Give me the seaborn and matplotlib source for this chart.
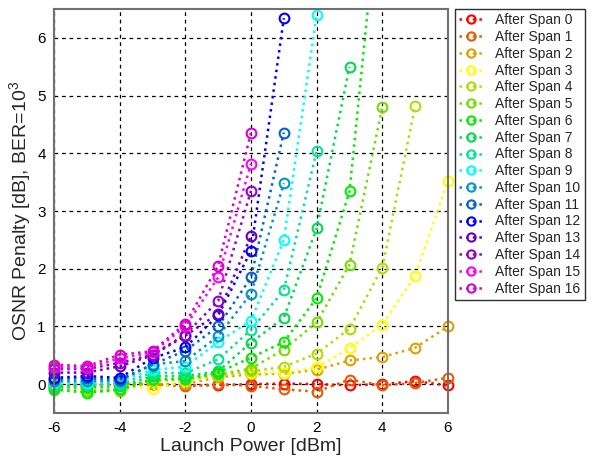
import numpy as np
import pandas as pd
import seaborn as sns
import matplotlib
matplotlib.use("Agg")
import matplotlib.pyplot as plt
from matplotlib.transforms import Bbox, TransformedBbox

# Launch power sweep (dBm)
power = [-6, -5, -4, -3, -2, -1, 0, 1, 2, 3, 4, 5, 6]

# OSNR penalty (dB) per span; each span is measured until the penalty blows up
span_0 = [0.0, 0.0, 0.0, 0.0, -0.02, -0.02, 0.0, 0.01, 0.0, -0.02, 0.0, 0.05, -0.02]
span_1 = [0.0, -0.02, 0.02, 0.0, -0.04, 0.0, -0.03, -0.09, -0.13, 0.08, -0.02, 0.02, 0.11]
span_2 = [0.0, 0.0, 0.0, 0.0, 0.0, 0.12, 0.17, 0.18, 0.25, 0.41, 0.47, 0.63, 1.0]
span_3 = [0.02, 0.0, 0.0, -0.09, 0.05, 0.15, 0.2, 0.2, 0.29, 0.62, 1.03, 1.88, 3.52]
span_4 = [-0.05, -0.09, -0.09, 0.05, 0.08, 0.15, 0.22, 0.30, 0.53, 0.96, 2.02, 4.82]
span_5 = [-0.1, -0.12, -0.12, 0.07, 0.1, 0.17, 0.27, 0.60, 1.07, 2.07, 4.80]
span_6 = [-0.09, -0.15, -0.09, 0.09, 0.09, 0.2, 0.46, 0.73, 1.49, 3.34, 9.0]
span_7 = [-0.05, -0.05, -0.04, 0.14, 0.14, 0.22, 0.72, 1.15, 2.70, 5.50]
span_8 = [-0.03, 0.0, 0.0, 0.2, 0.19, 0.43, 0.94, 1.63, 4.04]
span_9 = [0.04, 0.02, 0.05, 0.25, 0.30, 0.73, 1.10, 2.50, 6.40]
span_10 = [0.05, 0.05, 0.06, 0.34, 0.40, 0.83, 1.57, 3.48]
span_11 = [0.09, 0.1, 0.08, 0.34, 0.58, 1.0, 1.85, 4.36]
span_12 = [0.11, 0.14, 0.11, 0.45, 0.64, 1.19, 2.31, 6.34]
span_13 = [0.2, 0.2, 0.31, 0.50, 0.84, 1.22, 2.57]
span_14 = [0.26, 0.26, 0.37, 0.51, 0.86, 1.44, 3.35]
span_15 = [0.3, 0.28, 0.45, 0.55, 1.0, 1.85, 3.82]
span_16 = [0.34, 0.31, 0.51, 0.57, 1.05, 2.05, 4.36]

spans = [span_0, span_1, span_2, span_3, span_4, span_5, span_6, span_7, span_8,
         span_9, span_10, span_11, span_12, span_13, span_14, span_15, span_16]
labels = [f"After Span {i}" for i in range(len(spans))]

colors = ["#ff0000", "#e85a00", "#e0a000", "#ffff00", "#b4dc00", "#78dc00",
          "#00ee00", "#00dc50", "#00e496", "#00ffff", "#0096c8", "#0064c8",
          "#0000ff", "#6400c8", "#9600c8", "#ff00ff", "#dc00c8"]

rows = []
for lab, vals in zip(labels, spans):
    for p, v in zip(power, vals):
        rows.append({"power": p, "penalty": v, "span": lab})
df = pd.DataFrame(rows)

sns.set_theme(style="white")
plt.rcParams["font.family"] = ["Liberation Sans", "DejaVu Sans"]
plt.rcParams["mathtext.fontset"] = "custom"
plt.rcParams["mathtext.rm"] = "Liberation Sans"
plt.rcParams["mathtext.it"] = "Liberation Sans:italic"
plt.rcParams["axes.unicode_minus"] = False

fig = plt.figure(figsize=(5.97, 4.62), dpi=100)
ax = fig.add_axes([54 / 597, 49 / 462, 394 / 597, 404 / 462])

sns.lineplot(data=df, x="power", y="penalty", hue="span", hue_order=labels,
             palette=colors, marker="o", linestyle=":", linewidth=1.8,
             markersize=7, legend=False, sort=False, ax=ax)

clip = TransformedBbox(Bbox([[-0.03, -0.03], [1.03, 1.0]]), ax.transAxes)
lines = ax.get_lines()
for ln in lines:
    c = ln.get_color()
    ln.set_markerfacecolor("none")
    ln.set_markeredgecolor(c)
    ln.set_markeredgewidth(1.5)
    ln.set_clip_box(clip)

ax.set_xlim(-6, 6)
ax.set_ylim(-0.5, 6.5)
ax.set_xticks([-6, -4, -2, 0, 2, 4, 6])
ax.set_yticks([0, 1, 2, 3, 4, 5, 6])
ax.grid(True, color="black", linestyle=(0, (3, 3)), linewidth=0.9)
ax.set_axisbelow(True)
for s in ax.spines.values():
    s.set_color("#707070")
    s.set_linewidth(1.5)
ax.tick_params(axis="both", labelsize=11, colors="black", length=0, pad=6)

ax.set_xlabel("Launch Power [dBm]", fontsize=14, labelpad=2)
ax.set_ylabel("OSNR Penalty [dB], BER=10$^{3}$", fontsize=14, labelpad=3)

leg = ax.legend(lines, labels, loc="upper left",
                bbox_to_anchor=(455 / 597, 1 - 9 / 462),
                bbox_transform=fig.transFigure, fontsize=10, frameon=True,
                fancybox=False, framealpha=1, edgecolor="#303030",
                handlelength=1.7, handletextpad=0.9, labelspacing=0.2,
                borderpad=0.3, borderaxespad=0, markerscale=0.85)
leg.get_frame().set_linewidth(1.0)

fig.savefig("out.png", dpi=100, facecolor="white")
